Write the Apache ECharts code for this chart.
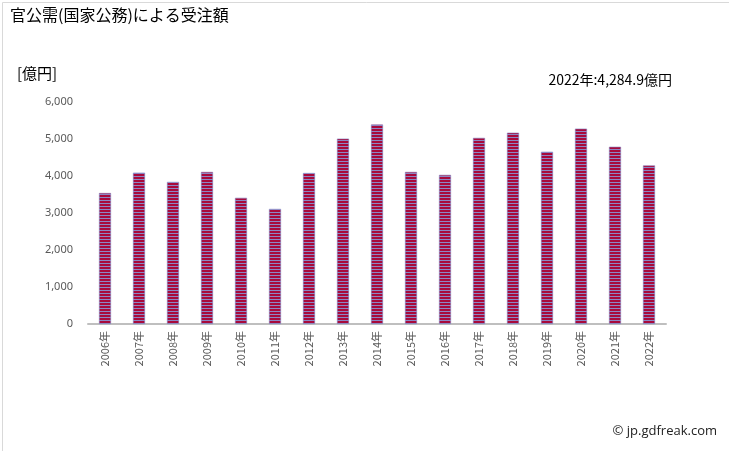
<!DOCTYPE html>
<html>
<head>
<meta charset="utf-8">
<script src="https://cdn.jsdelivr.net/npm/echarts@6/dist/echarts.min.js"></script>
<style>
html,body{margin:0;padding:0;background:#fff;}
#c{width:729px;height:451px;}
</style>
</head>
<body>
<div id="c"></div>
<script>
var categories = ['2006年','2007年','2008年','2009年','2010年','2011年','2012年','2013年','2014年','2015年','2016年','2017年','2018年','2019年','2020年','2021年','2022年'];
var values = [3540, 4090, 3840, 4110, 3410, 3110, 4080, 5010, 5390, 4110, 4030, 5030, 5170, 4655, 5280, 4790, 4284.9];
var yTicks = [0, 1000, 2000, 3000, 4000, 5000, 6000];
var titleText = '官公需(国家公務)による受注額';
var unitText = '[億円]';
var noteText = '2022年:4,284.9億円';
var creditText = '© jp.gdfreak.com';

var pc = document.createElement('canvas');
pc.width = 4; pc.height = 3;
var pctx = pc.getContext('2d');
pctx.fillStyle = '#a80a3c'; pctx.fillRect(0,0,4,2);
pctx.fillStyle = '#8c86c4'; pctx.fillRect(0,2,4,1);

var jp = '"Noto Sans CJK JP", "Noto Sans", sans-serif';
var chart = echarts.init(document.getElementById('c'), null, {renderer:'canvas'});
chart.setOption({
  animation: false,
  backgroundColor: '#fff',
  graphic: [
    {type:'rect', left:0, top:0, shape:{x:0.5,y:0.5,width:728,height:450}, style:{fill:'none', stroke:'#d9d9d9', lineWidth:1}, silent:true},
    {type:'text', left:10, top:7, style:{text:titleText, font:'16px '+jp, fill:'#000'}},
    {type:'text', left:17, top:66, style:{text:unitText, font:'15px '+jp, fill:'#000'}},
    {type:'text', right:57, top:73, style:{text:noteText, font:'14px '+jp, fill:'#000'}},
    {type:'text', right:12, top:425, style:{text:creditText, font:'13px "Open Sans", "DejaVu Sans", sans-serif', fill:'#222'}}
  ],
  grid: {left:88, right:63, top:102, bottom:127, containLabel:false},
  xAxis: {
    type:'category', data:categories,
    axisLine:{show:true, lineStyle:{color:'#bfbfbf', width:2}},
    axisTick:{show:false},
    axisLabel:{rotate:90, interval:0, color:'#595959', fontSize:11, fontFamily:jp, margin:7}
  },
  yAxis: {
    type:'value', min:yTicks[0], max:yTicks[yTicks.length-1], interval:1000,
    axisLine:{show:false}, axisTick:{show:false},
    splitLine:{show:false},
    axisLabel:{color:'#595959', fontSize:11, fontFamily:'"Noto Sans", sans-serif', margin:15,
      formatter:function(v){return v.toLocaleString('en-US');}}
  },
  series: [{
    type:'bar', data:values, barWidth:12,
    itemStyle:{color:{image:pc, repeat:'repeat'}, borderColor:'#8080c0', borderWidth:0.6}
  }]
});
</script>
</body>
</html>
